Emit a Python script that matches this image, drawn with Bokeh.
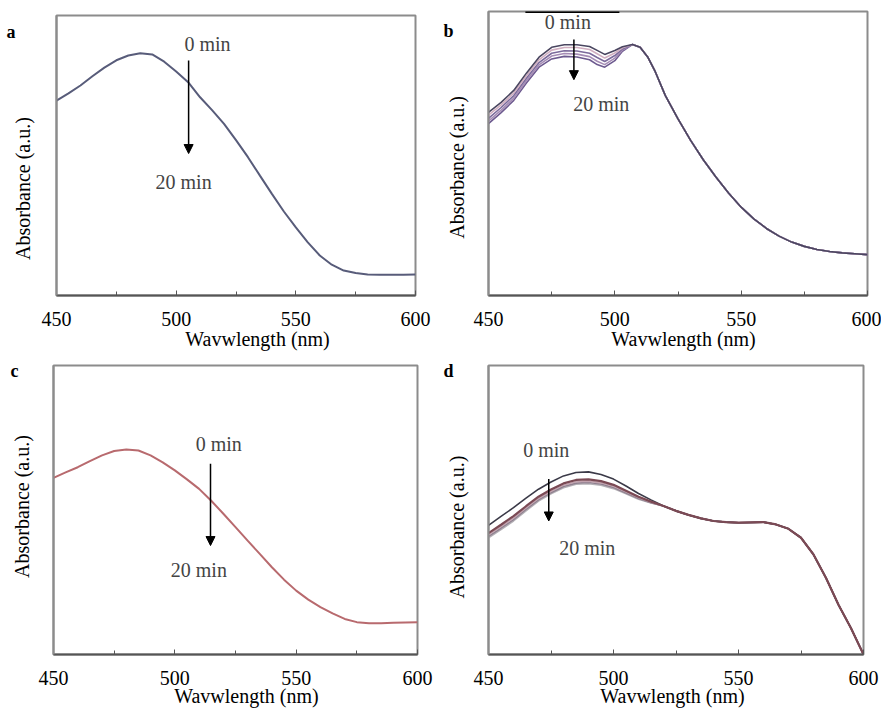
import math
from bokeh.plotting import figure
from bokeh.layouts import row, column
from bokeh.models import Range1d, FixedTicker, Label, Arrow, NormalHead, LinearAxis
from bokeh.embed import file_html
from bokeh.resources import INLINE

# ---------------- data ----------------
x_ticks = [450, 500, 550, 600]
x_minor = [475, 525, 575]
x_label = "Wavwlength (nm)"
y_label = "Absorbance (a.u.)"

# panel a
wl_a = [450, 455, 460, 465, 470, 475, 480, 485, 490, 495, 500, 505, 510, 515, 520, 525,
        530, 535, 540, 545, 550, 555, 560, 565, 570, 575, 580, 585, 590, 595, 600]
abs_a = [0.696, 0.722, 0.750, 0.783, 0.814, 0.840, 0.857, 0.865, 0.861, 0.835, 0.800, 0.762,
         0.708, 0.662, 0.613, 0.555, 0.494, 0.428, 0.363, 0.300, 0.243, 0.190, 0.143, 0.110,
         0.089, 0.080, 0.075, 0.074, 0.074, 0.074, 0.075]

# panel b
wl_b = [450, 455, 460, 465, 470, 475, 480, 485, 490, 493, 496, 500, 503, 507,
        510, 513, 516, 520, 525, 530, 535, 540, 545, 550, 555, 560, 565, 570, 575,
        580, 585, 590, 595, 600]
tail_b = [0.874, 0.840, 0.788, 0.704, 0.622, 0.546, 0.478, 0.417, 0.361, 0.311, 0.270,
          0.236, 0.209, 0.188, 0.173, 0.162, 0.155, 0.150, 0.147, 0.144]
b_0 = [0.645, 0.680, 0.722, 0.783, 0.839, 0.874, 0.883, 0.883, 0.877, 0.863, 0.849, 0.863, 0.876, 0.884]
b_5 = [0.635, 0.671, 0.713, 0.774, 0.830, 0.864, 0.873, 0.873, 0.866, 0.851, 0.836, 0.854, 0.872, 0.884]
b_10 = [0.624, 0.662, 0.704, 0.765, 0.820, 0.853, 0.862, 0.861, 0.853, 0.838, 0.824, 0.845, 0.868, 0.884]
b_15 = [0.614, 0.653, 0.695, 0.756, 0.812, 0.843, 0.852, 0.850, 0.841, 0.825, 0.813, 0.836, 0.864, 0.884]
b_20 = [0.605, 0.644, 0.687, 0.748, 0.804, 0.833, 0.842, 0.840, 0.830, 0.813, 0.804, 0.827, 0.860, 0.884]

# panel c
wl_c = [450, 455, 460, 465, 470, 475, 480, 485, 490, 495, 500, 505, 510, 515, 520, 525,
        530, 535, 540, 545, 550, 555, 560, 565, 570, 575, 580, 585, 590, 595, 600]
abs_c = [0.611, 0.630, 0.648, 0.669, 0.689, 0.704, 0.709, 0.706, 0.689, 0.665, 0.637, 0.606,
         0.573, 0.532, 0.487, 0.441, 0.394, 0.348, 0.302, 0.259, 0.221, 0.190, 0.164, 0.142,
         0.123, 0.112, 0.108, 0.108, 0.110, 0.111, 0.112]

# panel d
wl_d = [450, 455, 460, 465, 470, 475, 480, 485, 490, 495, 500, 505, 510, 515, 520,
        525, 530, 535, 540, 545, 550, 555, 560, 565, 570, 575, 580, 585, 590, 595, 600]
tail_d = [0.497, 0.483, 0.471, 0.462, 0.458, 0.456, 0.457, 0.458, 0.450, 0.435, 0.404,
          0.346, 0.265, 0.172, 0.091, 0.0]
d_0 = [0.447, 0.478, 0.508, 0.541, 0.572, 0.597, 0.618, 0.630, 0.632, 0.623, 0.607, 0.583, 0.557, 0.535, 0.514]
d_5 = [0.420, 0.449, 0.479, 0.513, 0.546, 0.571, 0.592, 0.604, 0.606, 0.600, 0.587, 0.567, 0.546, 0.529, 0.514]
d_10 = [0.414, 0.443, 0.472, 0.507, 0.540, 0.565, 0.586, 0.598, 0.600, 0.594, 0.582, 0.563, 0.543, 0.527, 0.514]
d_15 = [0.409, 0.437, 0.467, 0.502, 0.535, 0.560, 0.581, 0.593, 0.595, 0.590, 0.578, 0.559, 0.540, 0.525, 0.514]
d_20 = [0.404, 0.432, 0.462, 0.497, 0.531, 0.556, 0.577, 0.589, 0.591, 0.586, 0.574, 0.556, 0.537, 0.524, 0.514]

FONT = "Liberation Serif"
FS = "20px"


def make_panel(fw, fh, bl, br, bt, bb, ylab_pos, ylab_standoff, xlab_pos, xlab_standoff,
               letter, letter_y, letter_standoff):
    p = figure(frame_width=fw, frame_height=fh, min_border_left=bl, min_border_right=br,
               min_border_top=bt, min_border_bottom=bb, output_backend="svg",
               toolbar_location=None, x_range=Range1d(450, 600), y_range=Range1d(0, 1))
    p.grid.visible = False
    p.background_fill_color = "white"
    p.border_fill_color = "white"
    p.outline_line_color = "#8c8c8c"
    p.outline_line_width = 2
    # x axis with tick labels
    ax = p.xaxis[0]
    ax.ticker = FixedTicker(ticks=x_ticks, minor_ticks=x_minor)
    ax.axis_line_color = "#555555"
    ax.axis_line_width = 2
    ax.major_tick_in = 5
    ax.major_tick_out = 0
    ax.minor_tick_in = 4
    ax.minor_tick_out = 0
    ax.major_tick_line_color = "#555555"
    ax.minor_tick_line_color = "#555555"
    ax.major_label_text_font = FONT
    ax.major_label_text_font_size = FS
    ax.major_label_text_color = "black"
    ax.major_label_standoff = 16
    # second x axis carrying the axis title at its position in the original
    xt = LinearAxis(ticker=FixedTicker(ticks=[xlab_pos]),
                    major_label_overrides={xlab_pos: x_label},
                    axis_line_color=None, major_tick_line_color=None, minor_tick_line_color=None,
                    major_tick_out=0, major_tick_in=0, minor_tick_out=0, minor_tick_in=0,
                    major_label_standoff=xlab_standoff, major_label_text_font=FONT,
                    major_label_text_font_size=FS, major_label_text_color="black")
    p.add_layout(xt, "below")
    # y axis: title as rotated label at its position in the original
    ay = p.yaxis[0]
    ay.ticker = FixedTicker(ticks=[ylab_pos])
    ay.major_label_overrides = {ylab_pos: y_label}
    ay.major_label_orientation = "parallel"
    ay.axis_line_color = "#8c8c8c"
    ay.axis_line_width = 2
    ay.major_tick_line_color = None
    ay.minor_tick_line_color = None
    ay.major_tick_out = 0
    ay.major_tick_in = 0
    ay.minor_tick_out = 0
    ay.minor_tick_in = 0
    ay.major_label_standoff = ylab_standoff
    ay.major_label_text_font = FONT
    ay.major_label_text_font_size = FS
    ay.major_label_text_color = "black"
    # outer left axis carrying the panel letter
    la = LinearAxis(ticker=FixedTicker(ticks=[letter_y]),
                    major_label_overrides={letter_y: letter},
                    axis_line_color=None, major_tick_line_color=None, minor_tick_line_color=None,
                    major_tick_out=0, major_tick_in=0, minor_tick_out=0, minor_tick_in=0,
                    major_label_standoff=letter_standoff,
                    major_label_text_font=FONT, major_label_text_font_size="18px",
                    major_label_text_font_style="bold", major_label_text_color="black")
    p.add_layout(la, "left")
    return p


def decorate(p, t0, t20, arr):
    p.add_layout(Label(x=t0[0], y=t0[1], text="0 min", text_font=FONT, text_font_size=FS,
                       text_align="center", text_baseline="middle"))
    p.add_layout(Label(x=t20[0], y=t20[1], text="20 min", text_font=FONT, text_font_size=FS,
                       text_align="center", text_baseline="middle"))
    p.add_layout(Arrow(x_start=arr[0], y_start=arr[1], x_end=arr[0], y_end=arr[2],
                       line_color="black", line_width=1.5,
                       end=NormalHead(size=9, fill_color="black", line_color="black")))


# ---- panel a ----
pa = make_panel(359, 280, 56, 25, 15, 59, 0.382, 22, 534.0, -1, "a", 0.94, -6)
pa.line(wl_a, abs_a, line_color="#585c7a", line_width=2)
decorate(pa, (513.1, 0.90), (503.1, 0.407), (505.2, 0.839, 0.507))

# ---- panel b ----
pb = make_panel(379, 284, 44, 14, 11, 59, 0.451, 20, 527.2, -1, "b", 0.93, -10)
b_series = [(b_20, "#6d5a8f"), (b_15, "#a58cb5"), (b_10, "#7c6b9c"), (b_5, "#d0aec0"), (b_0, "#4a4660")]
for vals, col in b_series:
    pb.line(wl_b, vals + tail_b, line_color=col, line_width=1.6)
decorate(pb, (481.4, 0.962), (494.6, 0.675), (483.8, 0.901, 0.76))
pb.add_layout(Arrow(x_start=464.6, y_start=1.0, x_end=501.8, y_end=1.0, start=None, end=None,
                    line_color="black", line_width=3))

# ---- panel c ----
pc = make_panel(364, 289, 53, 23, 11, 57, 0.512, 20, 529.5, -3, "c", 0.98, -10)
pc.line(wl_c, abs_c, line_color="#b86a6e", line_width=2)
decorate(pc, (518.1, 0.729), (509.9, 0.291), (514.7, 0.660, 0.377))

# ---- panel d ----
pd_ = make_panel(375, 289, 44, 18, 11, 57, 0.441, 20, 523.6, -3, "d", 0.98, -10)
d_series = [(d_20, "#b5b1b6"), (d_15, "#8f8190"), (d_10, "#c2a2ae"), (d_0, "#3b3a48"), (d_5, "#7b4a55")]
for vals, col in d_series:
    pd_.line(wl_d, vals + tail_d, line_color=col, line_width=2.2 if col == "#7b4a55" else 1.6)
decorate(pd_, (473.1, 0.707), (489.5, 0.367), (474.1, 0.607, 0.462))

layout = column(row(column(pa), column(pb)), row(column(pc), column(pd_)))
open("out.html", "w").write(file_html(layout, INLINE))
